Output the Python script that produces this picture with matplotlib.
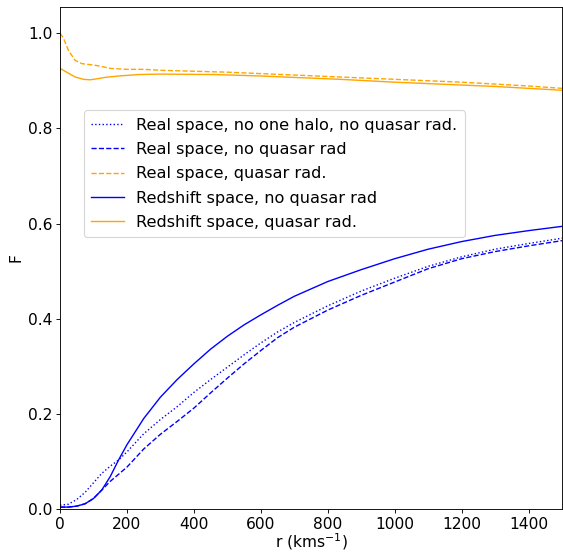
import matplotlib
matplotlib.use('Agg')
import matplotlib.pyplot as plt
import numpy as np

# blue curves (no quasar radiation)
r_blue = [0, 25, 50, 75, 100, 125, 150, 175, 200, 250, 300, 350, 400, 450, 500,
          550, 600, 650, 700, 800, 900, 1000, 1100, 1200, 1300, 1400, 1500]
real_no_halo = [0.008, 0.010, 0.020, 0.035, 0.055, 0.075, 0.090, 0.103, 0.120, 0.158,
                0.188, 0.215, 0.245, 0.272, 0.298, 0.324, 0.349, 0.372, 0.392, 0.427,
                0.458, 0.485, 0.510, 0.530, 0.546, 0.558, 0.569]
real_no_qso = [0.004, 0.004, 0.006, 0.011, 0.022, 0.040, 0.058, 0.073, 0.088, 0.126,
               0.157, 0.184, 0.212, 0.244, 0.275, 0.305, 0.333, 0.360, 0.382, 0.418,
               0.449, 0.477, 0.505, 0.526, 0.541, 0.553, 0.564]
red_no_qso = [0.004, 0.004, 0.006, 0.011, 0.022, 0.040, 0.068, 0.103, 0.135, 0.190,
              0.235, 0.272, 0.305, 0.336, 0.363, 0.387, 0.408, 0.428, 0.447, 0.478,
              0.503, 0.526, 0.546, 0.562, 0.575, 0.585, 0.594]

# orange curves (with quasar radiation)
r_real_qso = [0, 10, 25, 45, 65, 100, 125, 150, 200, 250, 300, 400, 500, 600, 700,
              800, 900, 1000, 1100, 1200, 1300, 1400, 1500]
real_qso = [1.000, 0.990, 0.964, 0.943, 0.936, 0.933, 0.930, 0.926, 0.924, 0.924,
            0.922, 0.920, 0.918, 0.915, 0.912, 0.909, 0.906, 0.903, 0.900, 0.897,
            0.893, 0.889, 0.884]
r_red_qso = [0, 20, 45, 70, 90, 110, 134, 175, 234, 300, 463, 600, 700, 837, 1000,
             1100, 1200, 1300, 1400, 1500]
red_qso = [0.926, 0.918, 0.908, 0.903, 0.902, 0.904, 0.907, 0.910, 0.913, 0.914,
           0.913, 0.910, 0.907, 0.903, 0.897, 0.894, 0.891, 0.888, 0.884, 0.880]

plt.rcParams['font.size'] = 14
plt.rcParams['lines.linewidth'] = 1.25

fig = plt.figure(figsize=(563 / 80, 552 / 80), dpi=80)
ax = fig.add_axes([60 / 563, 43 / 552, 502 / 563, 502 / 552])

ax.plot(r_blue, real_no_halo, ':', color='blue', label='Real space, no one halo, no quasar rad.')
ax.plot(r_blue, real_no_qso, '--', color='blue', label='Real space, no quasar rad')
ax.plot(r_real_qso, real_qso, '--', color='orange', label='Real space, quasar rad.')
ax.plot(r_blue, red_no_qso, '-', color='blue', label='Redshift space, no quasar rad')
ax.plot(r_red_qso, red_qso, '-', color='orange', label='Redshift space, quasar rad.')

ax.set_xlim(0, 1500)
ax.set_ylim(0, 1.055)
ax.set_xticks(np.arange(0, 1500, 200))
ax.set_yticks(np.arange(0, 1.01, 0.2))
ax.set_xlabel('r (kms$^{-1}$)', labelpad=0)
ax.set_ylabel('F')
ax.legend(loc='upper left', bbox_to_anchor=(0.048, 0.794), borderaxespad=0,
          fontsize=14.5, labelspacing=0.58, borderpad=0.45)

fig.savefig('out.png', dpi=80)
